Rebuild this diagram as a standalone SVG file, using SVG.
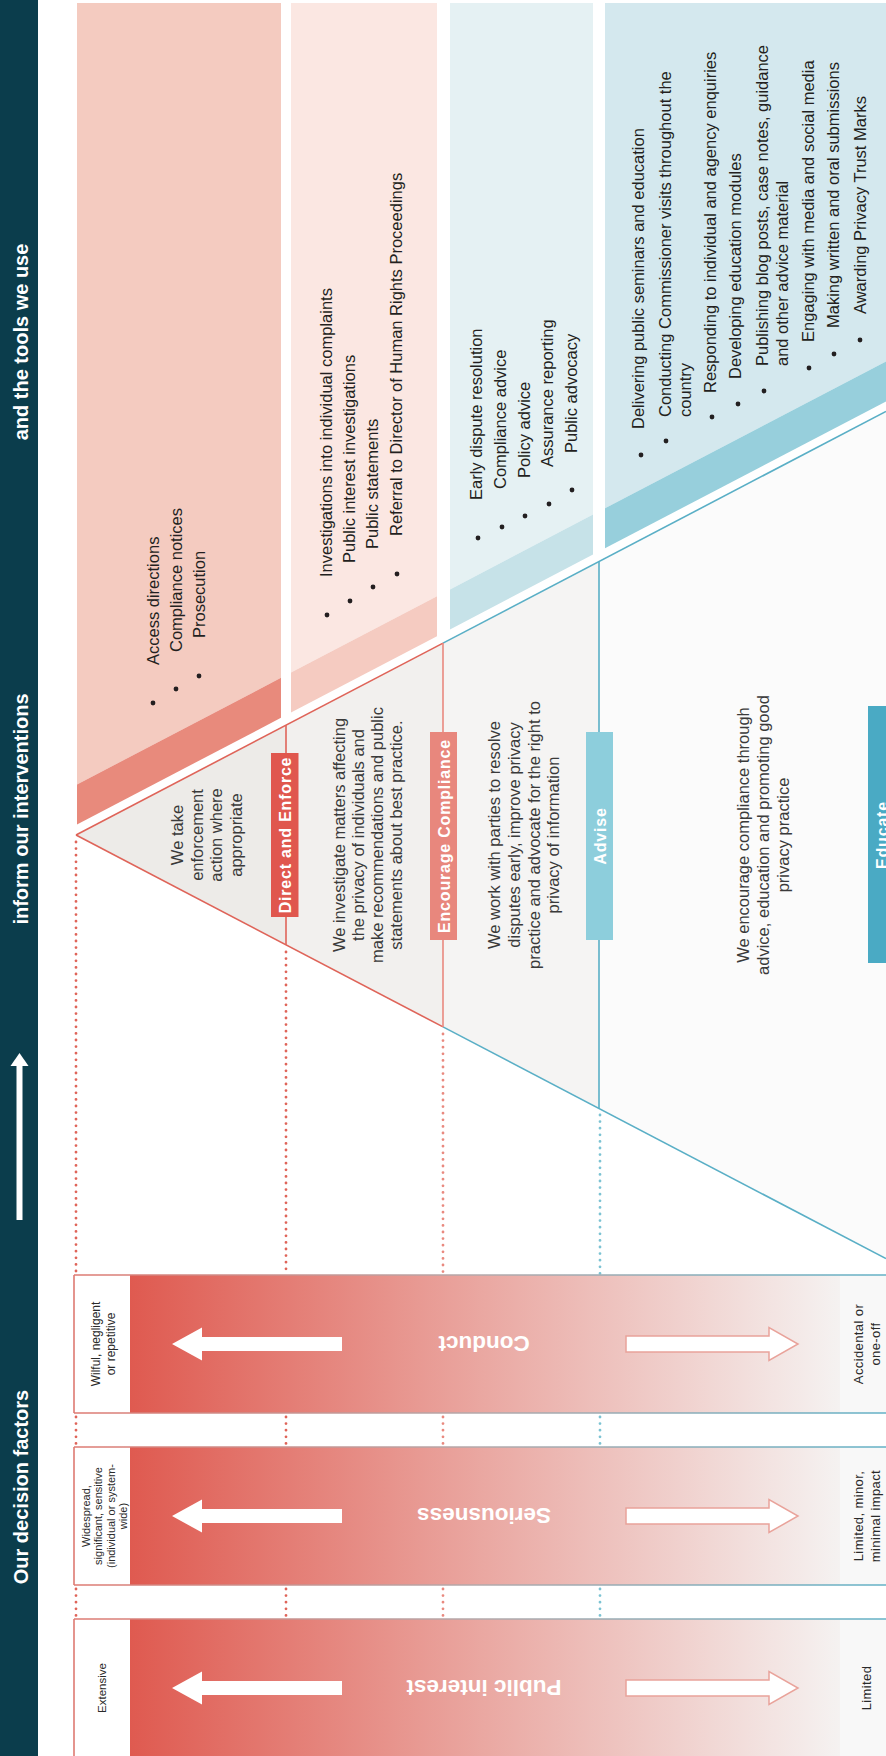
<svg xmlns="http://www.w3.org/2000/svg" width="886" height="1756" viewBox="0 0 886 1756">
<defs>
<linearGradient id="barFill" gradientUnits="userSpaceOnUse" x1="130" y1="0" x2="840" y2="0">
<stop offset="0" stop-color="#df5a50"/>
<stop offset="0.5" stop-color="#eaa8a2"/>
<stop offset="1" stop-color="#f5f2f1"/>
</linearGradient>
<linearGradient id="barLine" gradientUnits="userSpaceOnUse" x1="74" y1="0" x2="886" y2="0">
<stop offset="0" stop-color="#de7a72"/>
<stop offset="0.5" stop-color="#b3a9ab"/>
<stop offset="1" stop-color="#63b1c6"/>
</linearGradient>
<style>
.side{font-family:"Liberation Sans",Arial,sans-serif;font-weight:bold;font-size:20px;fill:#ffffff}
.list{font-family:"Liberation Sans",Arial,sans-serif;font-size:16.5px;fill:#231f20}
.desc{font-family:"Liberation Sans",Arial,sans-serif;font-size:16.5px;fill:#3a3a3a;text-anchor:middle}
.tag{font-family:"Liberation Sans",Arial,sans-serif;font-weight:bold;font-size:16px;letter-spacing:0.8px;fill:#ffffff;text-anchor:middle}
.barlbl{font-family:"Liberation Sans",Arial,sans-serif;font-weight:bold;font-size:22.5px;fill:#ffffff;text-anchor:middle}
.lbl{font-family:"Liberation Sans",Arial,sans-serif;fill:#2a2a2a;text-anchor:middle}
.dot{fill:#231f20}
.red{stroke:#df6459;stroke-width:1.6;fill:none}
.pink{stroke:#e9897f;stroke-width:1.6;fill:none}
.blue{stroke:#5aafc6;stroke-width:1.6;fill:none}
.dots{stroke-width:2.8;stroke-dasharray:0 6.6;stroke-linecap:round;fill:none}
.warr{fill:#ffffff}
.oarr{fill:#ffffff;stroke:#e9a39b;stroke-width:1.5}
.edge{stroke:url(#barLine);stroke-width:1.6}
</style>
</defs>
<rect x="0" y="0" width="886" height="1756" fill="#ffffff"/>

<g id="side-panel">
<rect x="0" y="0" width="38" height="1756" fill="#0b3d4c"/>
<text class="side" x="27.5" y="342" text-anchor="middle" transform="rotate(-90 27.5 342)">and the tools we use</text>
<text class="side" x="27.5" y="809" text-anchor="middle" transform="rotate(-90 27.5 809)">inform our interventions</text>
<rect x="16.5" y="1064" width="6" height="156" fill="#ffffff"/>
<polygon points="19.5,1053 10.5,1066 28.5,1066" fill="#ffffff"/>
<text class="side" x="27.5" y="1487" text-anchor="middle" transform="rotate(-90 27.5 1487)">Our decision factors</text>
</g>

<g id="tools-enforce">
<polygon points="77,3 281,3 281,677.8 77,784.5" fill="#f4cbc0"/>
<polygon points="77,784.5 281,677.8 281,717.8 77,824.5" fill="#e88a7c"/>
<circle class="dot" cx="153" cy="703" r="2.4"/>
<circle class="dot" cx="176" cy="689" r="2.4"/>
<circle class="dot" cx="199" cy="676" r="2.4"/>
<text class="list" x="159" y="665" transform="rotate(-90 159 665)">Access directions</text>
<text class="list" x="182" y="652" transform="rotate(-90 182 652)">Compliance notices</text>
<text class="list" x="205" y="638" transform="rotate(-90 205 638)">Prosecution</text>
</g>

<g id="tools-compliance">
<polygon points="291,3 437,3 437,596.2 291,672.6" fill="#fbe7e2"/>
<polygon points="291,672.6 437,596.2 437,636.2 291,712.6" fill="#f5cbc1"/>
<circle class="dot" cx="327" cy="615" r="2.4"/>
<circle class="dot" cx="350" cy="601" r="2.4"/>
<circle class="dot" cx="373" cy="587" r="2.4"/>
<circle class="dot" cx="397" cy="574" r="2.4"/>
<text class="list" x="332" y="577" transform="rotate(-90 332 577)">Investigations into individual complaints</text>
<text class="list" x="355" y="563" transform="rotate(-90 355 563)">Public interest investigations</text>
<text class="list" x="378" y="549" transform="rotate(-90 378 549)">Public statements</text>
<text class="list" x="402" y="536" transform="rotate(-90 402 536)">Referral to Director of Human Rights Proceedings</text>
</g>

<g id="tools-advise">
<polygon points="450,3 593,3 593,514.6 450,589.4" fill="#e5f1f3"/>
<polygon points="450,589.4 593,514.6 593,554.6 450,629.4" fill="#c6e2e8"/>
<circle class="dot" cx="478" cy="538" r="2.4"/>
<circle class="dot" cx="502" cy="527" r="2.4"/>
<circle class="dot" cx="525" cy="516" r="2.4"/>
<circle class="dot" cx="549" cy="504" r="2.4"/>
<circle class="dot" cx="572" cy="490" r="2.4"/>
<text class="list" x="482" y="500" transform="rotate(-90 482 500)">Early dispute resolution</text>
<text class="list" x="506" y="489" transform="rotate(-90 506 489)">Compliance advice</text>
<text class="list" x="530" y="478" transform="rotate(-90 530 478)">Policy advice</text>
<text class="list" x="553" y="467" transform="rotate(-90 553 467)">Assurance reporting</text>
<text class="list" x="577" y="453" transform="rotate(-90 577 453)">Public advocacy</text>
</g>

<g id="tools-educate">
<polygon points="605,3 886,3 886,361.4 605,508.3" fill="#d4e8ee"/>
<polygon points="605,508.3 886,361.4 886,401.4 605,548.3" fill="#97cfdc"/>
<circle class="dot" cx="641" cy="455" r="2.4"/>
<circle class="dot" cx="666" cy="441" r="2.4"/>
<circle class="dot" cx="712" cy="417" r="2.4"/>
<circle class="dot" cx="738" cy="404" r="2.4"/>
<circle class="dot" cx="764" cy="391" r="2.4"/>
<circle class="dot" cx="809" cy="368" r="2.4"/>
<circle class="dot" cx="834" cy="354" r="2.4"/>
<circle class="dot" cx="860" cy="340" r="2.4"/>
<text class="list" x="644" y="429" transform="rotate(-90 644 429)">Delivering public seminars and education</text>
<text class="list" x="671" y="417" transform="rotate(-90 671 417)">Conducting Commissioner visits throughout the</text>
<text class="list" x="691" y="417" transform="rotate(-90 691 417)">country</text>
<text class="list" x="716" y="393" transform="rotate(-90 716 393)">Responding to individual and agency enquiries</text>
<text class="list" x="741" y="379" transform="rotate(-90 741 379)">Developing education modules</text>
<text class="list" x="768" y="366" transform="rotate(-90 768 366)">Publishing blog posts, case notes, guidance</text>
<text class="list" x="788" y="366" transform="rotate(-90 788 366)">and other advice material</text>
<text class="list" x="814" y="342" transform="rotate(-90 814 342)">Engaging with media and social media</text>
<text class="list" x="839" y="328" transform="rotate(-90 839 328)">Making written and oral submissions</text>
<text class="list" x="866" y="314" transform="rotate(-90 866 314)">Awarding Privacy Trust Marks</text>
</g>

<g id="level-direct">
<polygon points="76,835 286,725.2 286,944.8" fill="#edebe8"/>
<text class="desc" x="183" y="835" transform="rotate(-90 183 835)">We take</text>
<text class="desc" x="203" y="835" transform="rotate(-90 203 835)">enforcement</text>
<text class="desc" x="222" y="835" transform="rotate(-90 222 835)">action where</text>
<text class="desc" x="242" y="835" transform="rotate(-90 242 835)">appropriate</text>
</g>

<g id="level-encourage">
<polygon points="286,725.2 443,643.1 443,1026.9 286,944.8" fill="#f2f0ee"/>
<text class="desc" x="345" y="835" transform="rotate(-90 345 835)">We investigate matters affecting</text>
<text class="desc" x="364" y="835" transform="rotate(-90 364 835)">the privacy of individuals and</text>
<text class="desc" x="383" y="835" transform="rotate(-90 383 835)">make recommendations and public</text>
<text class="desc" x="402" y="835" transform="rotate(-90 402 835)">statements about best practice.</text>
</g>

<g id="level-advise">
<polygon points="443,643.1 599,561.5 599,1108.5 443,1026.9" fill="#f5f4f3"/>
<text class="desc" x="500" y="835" transform="rotate(-90 500 835)">We work with parties to resolve</text>
<text class="desc" x="520" y="835" transform="rotate(-90 520 835)">disputes early, improve privacy</text>
<text class="desc" x="540" y="835" transform="rotate(-90 540 835)">practice and advocate for the right to</text>
<text class="desc" x="559" y="835" transform="rotate(-90 559 835)">privacy of information</text>
</g>

<g id="level-educate">
<polygon points="599,561.5 886,411.4 886,1258.6 599,1108.5" fill="#fbfbfb"/>
<text class="desc" x="749" y="835" transform="rotate(-90 749 835)">We encourage compliance through</text>
<text class="desc" x="769" y="835" transform="rotate(-90 769 835)">advice, education and promoting good</text>
<text class="desc" x="789" y="835" transform="rotate(-90 789 835)">privacy practice</text>
</g>

<g id="connectors">
<line class="red" x1="76" y1="835" x2="443" y2="643.1"/>
<line class="blue" x1="443" y1="643.1" x2="886" y2="411.4"/>
<line class="red" x1="76" y1="835" x2="443" y2="1026.9"/>
<line class="blue" x1="443" y1="1026.9" x2="886" y2="1258.6"/>
<line class="red" x1="286" y1="725.2" x2="286" y2="944.8"/>
<line class="pink" x1="443" y1="643.1" x2="443" y2="1026.9"/>
<line class="blue" x1="599" y1="561.5" x2="599" y2="1108.5"/>
<path class="dots" stroke="#df6459" d="M76,842V1275M76,1417V1447M76,1589V1619"/>
<path class="dots" stroke="#df6459" d="M286,952V1275M286,1417V1447M286,1589V1619"/>
<path class="dots" stroke="#e9897f" d="M443,1034V1275M443,1417V1447M443,1589V1619"/>
<path class="dots" stroke="#7cc3d3" d="M600,1115V1275M600,1417V1447M600,1589V1619"/>
</g>

<g id="tag-direct">
<rect x="271" y="753" width="27.5" height="164" fill="#e0574e"/>
<text class="tag" x="290.5" y="835" transform="rotate(-90 290.5 835)">Direct and Enforce</text>
</g>
<g id="tag-encourage">
<rect x="430" y="732" width="27" height="208" fill="#e8877d"/>
<text class="tag" x="449.5" y="836" transform="rotate(-90 449.5 836)">Encourage Compliance</text>
</g>
<g id="tag-advise">
<rect x="586" y="732" width="27" height="208" fill="#8dcedc"/>
<text class="tag" x="605.5" y="836" transform="rotate(-90 605.5 836)">Advise</text>
</g>
<g id="tag-educate">
<rect x="868" y="706" width="28" height="257" fill="#4aaac4"/>
<text class="tag" x="888" y="835" transform="rotate(-90 888 835)">Educate</text>
</g>

<g id="bar-conduct">
<rect x="74" y="1275" width="56" height="138" fill="#ffffff"/>
<rect x="130" y="1275" width="710" height="138" fill="url(#barFill)"/>
<rect x="840" y="1275" width="46" height="138" fill="#f8f8f8"/>
<line class="edge" x1="74" y1="1275" x2="886" y2="1275"/>
<line class="edge" x1="74" y1="1413" x2="886" y2="1413"/>
<line x1="74" y1="1275" x2="74" y2="1413" stroke="#de7a72" stroke-width="1.6"/>
<polygon class="warr" points="172,1344 202,1327.5 202,1337 342,1337 342,1351 202,1351 202,1360.5"/>
<polygon class="oarr" points="626,1336 769,1336 769,1327.5 798,1344 769,1360.5 769,1352 626,1352"/>
<text class="barlbl" x="484" y="1352" transform="rotate(180 484 1344)">Conduct</text>
<text class="lbl" font-size="12" x="99.5" y="1344" transform="rotate(-90 99.5 1344)">Wilful, negligent</text>
<text class="lbl" font-size="12" x="114.5" y="1344" transform="rotate(-90 114.5 1344)">or repetitive</text>
<text class="lbl" font-size="13" letter-spacing="0.4" x="862.5" y="1344" transform="rotate(-90 862.5 1344)">Accidental or</text>
<text class="lbl" font-size="13" letter-spacing="0.4" x="879.5" y="1344" transform="rotate(-90 879.5 1344)">one-off</text>
</g>

<g id="bar-seriousness">
<rect x="74" y="1447" width="56" height="138" fill="#ffffff"/>
<rect x="130" y="1447" width="710" height="138" fill="url(#barFill)"/>
<rect x="840" y="1447" width="46" height="138" fill="#f8f8f8"/>
<line class="edge" x1="74" y1="1447" x2="886" y2="1447"/>
<line class="edge" x1="74" y1="1585" x2="886" y2="1585"/>
<line x1="74" y1="1447" x2="74" y2="1585" stroke="#de7a72" stroke-width="1.6"/>
<polygon class="warr" points="172,1516 202,1499.5 202,1509 342,1509 342,1523 202,1523 202,1532.5"/>
<polygon class="oarr" points="626,1508 769,1508 769,1499.5 798,1516 769,1532.5 769,1524 626,1524"/>
<text class="barlbl" x="484" y="1524" transform="rotate(180 484 1516)">Seriousness</text>
<text class="lbl" font-size="11" x="89.5" y="1516" transform="rotate(-90 89.5 1516)">Widespread,</text>
<text class="lbl" font-size="11" x="102" y="1516" transform="rotate(-90 102 1516)">significant, sensitive</text>
<text class="lbl" font-size="11" x="114.5" y="1516" transform="rotate(-90 114.5 1516)">(individual or system-</text>
<text class="lbl" font-size="11" x="127" y="1516" transform="rotate(-90 127 1516)">wide)</text>
<text class="lbl" font-size="13" letter-spacing="0.4" x="862.5" y="1516" transform="rotate(-90 862.5 1516)">Limited, minor,</text>
<text class="lbl" font-size="13" letter-spacing="0.4" x="879.5" y="1516" transform="rotate(-90 879.5 1516)">minimal impact</text>
</g>

<g id="bar-public-interest">
<rect x="74" y="1619" width="56" height="140" fill="#ffffff"/>
<rect x="130" y="1619" width="710" height="140" fill="url(#barFill)"/>
<rect x="840" y="1619" width="46" height="140" fill="#f8f8f8"/>
<line class="edge" x1="74" y1="1619" x2="886" y2="1619"/>
<line x1="74" y1="1619" x2="74" y2="1756" stroke="#de7a72" stroke-width="1.6"/>
<polygon class="warr" points="172,1688 202,1671.5 202,1681 342,1681 342,1695 202,1695 202,1704.5"/>
<polygon class="oarr" points="626,1680 769,1680 769,1671.5 798,1688 769,1704.5 769,1696 626,1696"/>
<text class="barlbl" x="484" y="1696" transform="rotate(180 484 1688)">Public interest</text>
<text class="lbl" font-size="11.5" x="105.5" y="1688" transform="rotate(-90 105.5 1688)">Extensive</text>
<text class="lbl" font-size="13" letter-spacing="0.4" x="871" y="1688" transform="rotate(-90 871 1688)">Limited</text>
</g>
</svg>
